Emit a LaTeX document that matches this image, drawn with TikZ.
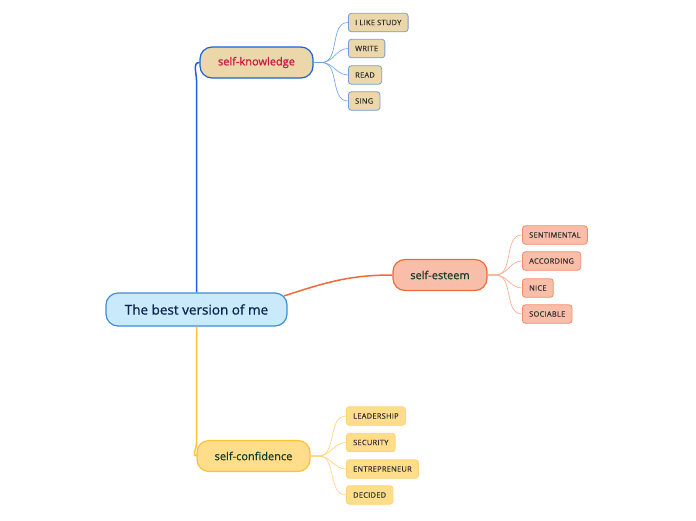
\documentclass[tikz,border=0pt]{standalone}
\usepackage{fontspec}
\setmainfont{Open Sans}
\newfontfamily\topicfont{Open Sans}[FakeBold=0.8]
\newfontfamily\leaffont{Open Sans}[LetterSpace=4, FakeBold=0.4]
\usetikzlibrary{positioning}

\definecolor{mainfill}{HTML}{C8EAFA}
\definecolor{maindraw}{HTML}{3D8ED6}
\definecolor{maintext}{HTML}{0C2650}
\definecolor{knowfill}{HTML}{EBD7A9}
\definecolor{knowdraw}{HTML}{1A62D8}
\definecolor{knowleaf}{HTML}{7A9BD6}
\definecolor{knowline}{HTML}{6A9FE8}
\definecolor{knowtext}{HTML}{CC1540}
\definecolor{estfill}{HTML}{F9BEAA}
\definecolor{estdraw}{HTML}{EE6A3A}
\definecolor{estleaf}{HTML}{F58C6A}
\definecolor{estline}{HTML}{F8A888}
\definecolor{conffill}{HTML}{FFDD8A}
\definecolor{confdraw}{HTML}{FFC233}
\definecolor{confleaf}{HTML}{FFD27A}
\definecolor{confline}{HTML}{FFD070}
\definecolor{topictext}{HTML}{104030}
\definecolor{leaftext}{HTML}{303030}

\begin{document}
\begin{tikzpicture}[x=1pt, y=-1pt,
	topic/.style={draw, line width=1.2pt, rounded corners=12pt, minimum height=31pt,
		inner sep=0pt, font=\topicfont\fontsize{11}{12}\selectfont, text=topictext},
	leaf/.style={draw, line width=0.8pt, rounded corners=3pt, minimum height=18.5pt,
		inner xsep=6.8pt, inner ysep=0pt, anchor=west, font=\leaffont\fontsize{7.4}{8}\selectfont, text=leaftext},
	]
	\useasboundingbox (0,0) rectangle (696,520);
	% centre and main topics
	\node[topic, fill=mainfill, draw=maindraw, text=maintext, minimum width=181pt, minimum height=33pt,
		font=\topicfont\fontsize{13.5}{15}\selectfont] (main) at (196.5,309.5) {The best version of me};
	\node[topic, fill=knowfill, draw=knowdraw, text=knowtext, minimum width=113pt] (knowledge) at (256.5,62.5) {self-knowledge};
	\node[topic, fill=estfill, draw=estdraw, minimum width=94pt] (esteem) at (440,275) {self-esteem};
	\node[topic, fill=conffill, draw=confdraw, minimum width=113pt] (confidence) at (253.5,456) {self-confidence};
	\draw[knowdraw, line width=1.5pt] (main.north) -- (main.north |- 0,80) to[out=90,in=180] (knowledge.west);
	\draw[confdraw, line width=1.5pt] (main.south) -- (main.south |- 0,444) to[out=-90,in=180] (confidence.west);
	\draw[estdraw, line width=1.5pt] ([xshift=-3.5pt,yshift=-3.5pt]main.north east) to[out=18,in=180] (esteem.west);
	% leaves
	\foreach \name/\y/\txt in {k1/22.5/I LIKE STUDY, k2/48.5/WRITE, k3/75/READ, k4/101/SING}
	{
		\node[leaf, fill=knowfill, draw=knowleaf] (\name) at (348,\y) {\txt};
		\draw[knowline, line width=0.6pt] (knowledge.east) -- ++(8,0) to[out=0,in=180] (\name.west);
	}
	\foreach \name/\y/\txt in {e1/235/SENTIMENTAL, e2/261/ACCORDING, e3/288/NICE, e4/314/SOCIABLE}
	{
		\node[leaf, fill=estfill, draw=estleaf] (\name) at (522,\y) {\txt};
		\draw[estline, line width=0.6pt] (esteem.east) -- ++(8,0) to[out=0,in=180] (\name.west);
	}
	\foreach \name/\y/\txt in {c1/416/LEADERSHIP, c2/442.5/SECURITY, c3/469/ENTREPRENEUR, c4/495/DECIDED}
	{
		\node[leaf, fill=conffill, draw=confleaf] (\name) at (346,\y) {\txt};
		\draw[confline, line width=0.6pt] (confidence.east) -- ++(8,0) to[out=0,in=180] (\name.west);
	}
\end{tikzpicture}
\end{document}
